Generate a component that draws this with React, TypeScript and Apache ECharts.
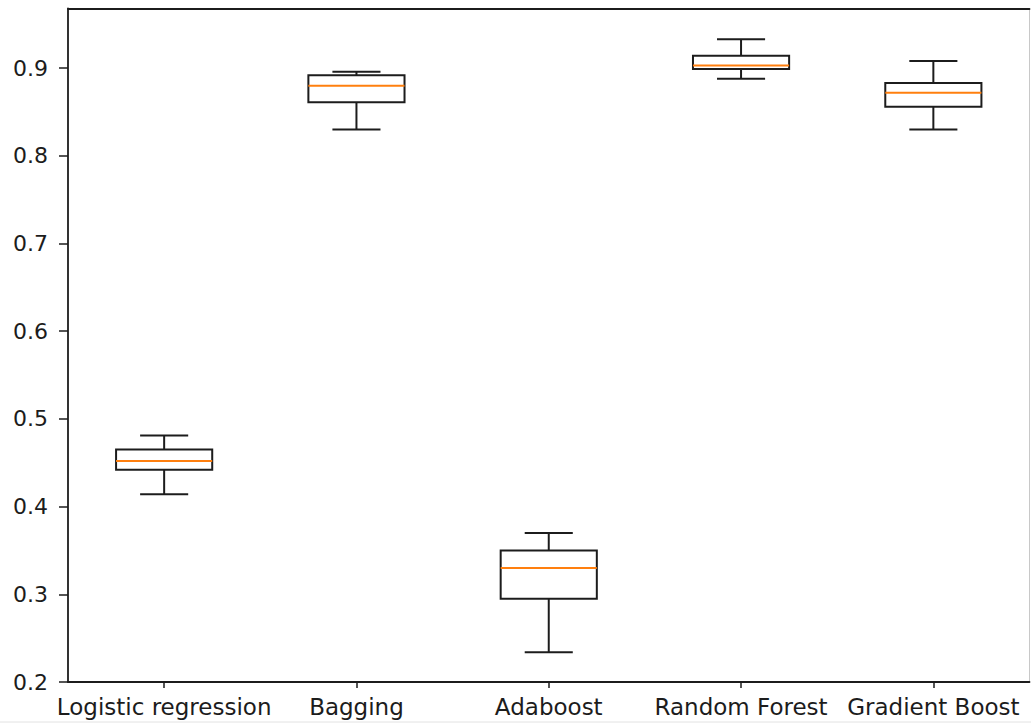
import { useEffect, useRef } from "react";
import * as echarts from "echarts";

// Models compared and the five-number summary of their scores: [min, q1, median, q3, max]
const models = ["Logistic regression", "Bagging", "Adaboost", "Random Forest", "Gradient Boost"];
const logisticScores = [0.414, 0.442, 0.452, 0.465, 0.481];
const baggingScores = [0.83, 0.861, 0.88, 0.892, 0.896];
const adaboostScores = [0.234, 0.295, 0.33, 0.35, 0.37];
const randomForestScores = [0.888, 0.899, 0.903, 0.914, 0.933];
const gradientBoostScores = [0.83, 0.856, 0.872, 0.883, 0.908];
const yTicks = [0.2, 0.3, 0.4, 0.5, 0.6, 0.7, 0.8, 0.9];
const yMin = 0.2;
const yMax = 0.968;

const summaries = [logisticScores, baggingScores, adaboostScores, randomForestScores, gradientBoostScores];

const FONT = '"DejaVu Sans", Verdana, sans-serif';
const INK = "#1c1c1c";
const MEDIAN = "#ff7f0e";

export default function App() {
  const ref = useRef<HTMLDivElement>(null);

  useEffect(() => {
    if (!ref.current) return;
    const chart = echarts.init(ref.current, null, { renderer: "svg" });

    const data = summaries.map((s, i) => [i, ...s]);

    chart.setOption({
      animation: false,
      backgroundColor: "#ffffff",
      grid: { left: 68, right: 1.5, top: 8.5, bottom: 42, containLabel: false },
      xAxis: [
        {
          type: "category",
          data: models,
          boundaryGap: true,
          axisLine: { show: true, lineStyle: { color: INK, width: 1.8 } },
          axisTick: { show: true, alignWithLabel: true, length: 6, lineStyle: { color: INK, width: 1.5 } },
          axisLabel: { interval: 0, margin: 13, color: INK, fontFamily: FONT, fontSize: 23 },
          splitLine: { show: false },
        },
        {
          type: "category",
          data: models,
          position: "top",
          axisLine: { show: true, lineStyle: { color: INK, width: 1.8 } },
          axisTick: { show: false },
          axisLabel: { show: false },
        },
      ],
      yAxis: {
        type: "value",
        min: yMin,
        max: yMax,
        axisLine: { show: true, lineStyle: { color: INK, width: 1.8 } },
        axisTick: { show: true, length: 9, customValues: yTicks, lineStyle: { color: INK, width: 1.5 } },
        axisLabel: {
          customValues: yTicks,
          margin: 20,
          color: INK,
          fontFamily: FONT,
          fontSize: 22,
          formatter: (v: number) => v.toFixed(1),
        },
        splitLine: { show: false },
      },
      graphic: [
        // faint right-hand frame edge
        {
          type: "line",
          shape: { x1: 1029.5, y1: 8.5, x2: 1029.5, y2: 682 },
          style: { stroke: "#c8c8c8", lineWidth: 1 },
        },
        {
          type: "line",
          shape: { x1: 0, y1: 722, x2: 1031, y2: 722 },
          style: { stroke: "#e2e2e2", lineWidth: 1 },
        },
      ],
      series: [
        {
          type: "custom",
          xAxisIndex: 0,
          data,
          encode: { x: 0, y: [1, 2, 3, 4, 5] },
          renderItem: (_params: any, api: any) => {
            const i = api.value(0);
            const lo = api.value(1);
            const q1 = api.value(2);
            const med = api.value(3);
            const q3 = api.value(4);
            const hi = api.value(5);
            const band = api.size([1, 0])[0];
            const cx = api.coord([i, med])[0];
            const y = (v: number) => api.coord([i, v])[1];
            const boxHalf = band * 0.25;
            const capHalf = band * 0.125;
            const stroke = { stroke: INK, lineWidth: 2, fill: null };
            return {
              type: "group",
              children: [
                { type: "line", shape: { x1: cx, y1: y(lo), x2: cx, y2: y(q1) }, style: stroke },
                { type: "line", shape: { x1: cx, y1: y(q3), x2: cx, y2: y(hi) }, style: stroke },
                { type: "line", shape: { x1: cx - capHalf, y1: y(lo), x2: cx + capHalf, y2: y(lo) }, style: stroke },
                { type: "line", shape: { x1: cx - capHalf, y1: y(hi), x2: cx + capHalf, y2: y(hi) }, style: stroke },
                {
                  type: "rect",
                  shape: { x: cx - boxHalf, y: y(q3), width: boxHalf * 2, height: y(q1) - y(q3) },
                  style: { stroke: INK, lineWidth: 2, fill: "none" },
                },
                {
                  type: "line",
                  shape: { x1: cx - boxHalf, y1: y(med), x2: cx + boxHalf, y2: y(med) },
                  style: { stroke: MEDIAN, lineWidth: 2 },
                },
              ],
            };
          },
        },
      ],
    });

    return () => chart.dispose();
  }, []);

  return (
    <div
      ref={ref}
      style={{ position: "fixed", left: 0, top: 0, width: 1031, height: 724, background: "#fff" }}
    />
  );
}
